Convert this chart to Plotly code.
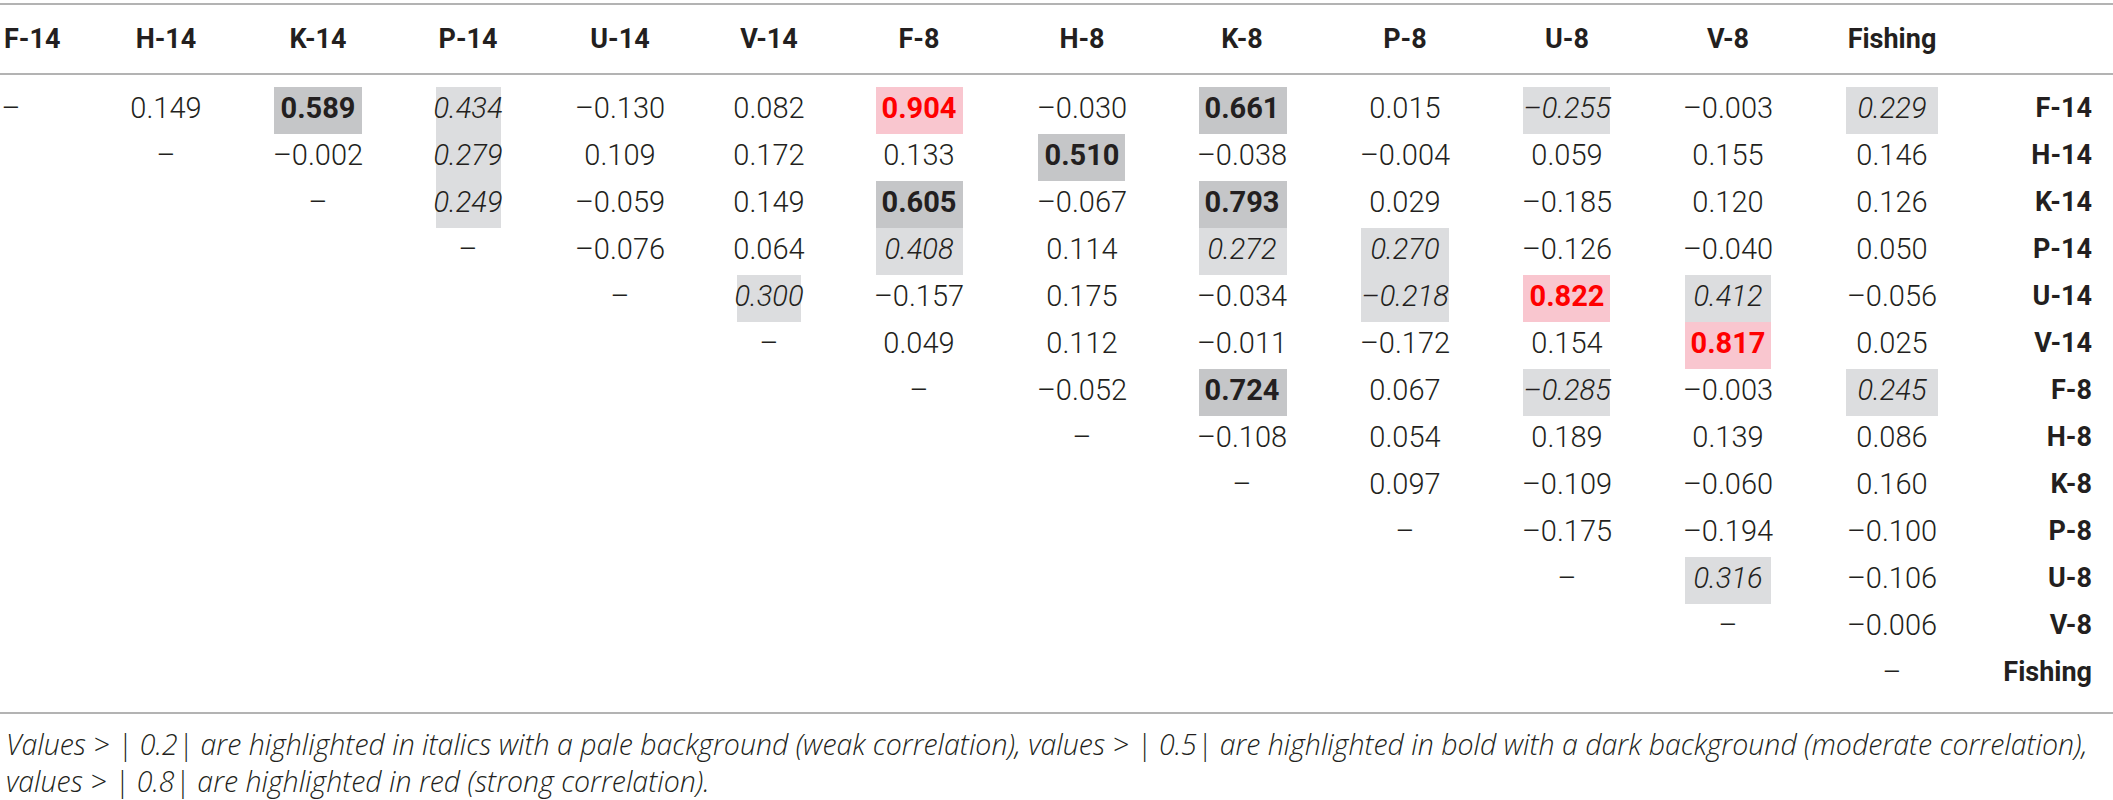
import plotly.graph_objects as go

labels = ["F-14", "H-14", "K-14", "P-14", "U-14", "V-14",
          "F-8", "H-8", "K-8", "P-8", "U-8", "V-8", "Fishing"]

# upper triangle of the correlation matrix, each row starts right after the diagonal
r_f14 = [0.149, 0.589, 0.434, -0.130, 0.082, 0.904, -0.030, 0.661, 0.015, -0.255, -0.003, 0.229]
r_h14 = [-0.002, 0.279, 0.109, 0.172, 0.133, 0.510, -0.038, -0.004, 0.059, 0.155, 0.146]
r_k14 = [0.249, -0.059, 0.149, 0.605, -0.067, 0.793, 0.029, -0.185, 0.120, 0.126]
r_p14 = [-0.076, 0.064, 0.408, 0.114, 0.272, 0.270, -0.126, -0.040, 0.050]
r_u14 = [0.300, -0.157, 0.175, -0.034, -0.218, 0.822, 0.412, -0.056]
r_v14 = [0.049, 0.112, -0.011, -0.172, 0.154, 0.817, 0.025]
r_f8 = [-0.052, 0.724, 0.067, -0.285, -0.003, 0.245]
r_h8 = [-0.108, 0.054, 0.189, 0.139, 0.086]
r_k8 = [0.097, -0.109, -0.060, 0.160]
r_p8 = [-0.175, -0.194, -0.100]
r_u8 = [0.316, -0.106]
r_v8 = [-0.006]
r_fishing = []
upper = [r_f14, r_h14, r_k14, r_p14, r_u14, r_v14, r_f8, r_h8, r_k8, r_p8, r_u8, r_v8, r_fishing]

caption_1 = ("Values > | 0.2| are highlighted in italics with a pale background (weak correlation), "
             "values > | 0.5| are highlighted in bold with a dark background (moderate correlation),")
caption_2 = "values > | 0.8| are highlighted in red (strong correlation)."

# layout of the table (pixels)
W, H = 2113, 800
col_x = [4, 166, 318, 468, 620, 769, 919, 1082, 1242, 1405, 1567, 1728, 1892]
box_l = [0, 122, 274, 436, 576, 737, 876, 1038, 1199, 1361, 1523, 1685, 1846]
box_r = [0, 210, 362, 501, 664, 801, 963, 1125, 1287, 1449, 1610, 1771, 1938]
label_x = 2092
header_y = 41
row_y0, row_h = 110.5, 47
lines_y = [4, 74, 713]

TXT = "#231f20"
PALE = "#dcdddf"
DARK = "#c5c6c8"
PINK = "#f9c6cf"
RED = "#ff0000"
FONT = "Roboto"


def fmt(v):
    s = f"{abs(v):.3f}"
    return ("\u2013" + s) if v < 0 else s


groups = {"plain": ([], [], []), "weak": ([], [], []), "mid": ([], [], []), "strong": ([], [], [])}
shapes = []
for i, row in enumerate(upper):
    y = row_y0 + i * row_h
    for k, v in enumerate(row):
        j = i + 1 + k
        a = abs(v)
        if a > 0.8:
            g, fill = "strong", PINK
        elif a > 0.5:
            g, fill = "mid", DARK
        elif a > 0.2:
            g, fill = "weak", PALE
        else:
            g, fill = "plain", None
        groups[g][0].append(col_x[j])
        groups[g][1].append(y)
        groups[g][2].append(fmt(v))
        if fill:
            shapes.append(dict(type="rect", xref="x", yref="y", layer="below",
                               x0=box_l[j], x1=box_r[j], y0=y - row_h / 2, y1=y + row_h / 2,
                               fillcolor=fill, line=dict(width=0)))

styles = {
    "plain": dict(color=TXT, weight=300, style="normal"),
    "weak": dict(color=TXT, weight=300, style="italic"),
    "mid": dict(color=TXT, weight=700, style="normal"),
    "strong": dict(color=RED, weight=700, style="normal"),
}

fig = go.Figure()
for g, (xs, ys, ts) in groups.items():
    fig.add_trace(go.Scatter(x=xs, y=ys, text=ts, mode="text", textposition="middle center",
                             textfont=dict(family=FONT, size=29, **styles[g]),
                             hoverinfo="skip", showlegend=False))

# diagonal dashes
diag_x = [col_x[i] + (7 if i == 0 else 0) for i in range(len(labels))]
diag_y = [row_y0 + i * row_h for i in range(len(labels))]
fig.add_trace(go.Scatter(x=diag_x, y=diag_y, text=["\u2013"] * len(labels), mode="text",
                         textposition="middle center",
                         textfont=dict(family=FONT, size=29, color=TXT, weight=300),
                         hoverinfo="skip", showlegend=False))

head_font = dict(family=FONT, size=27, color=TXT, weight=700)
# column headers
fig.add_trace(go.Scatter(x=[col_x[0]], y=[header_y], text=[labels[0]], mode="text",
                         textposition="middle right", textfont=head_font,
                         hoverinfo="skip", showlegend=False))
fig.add_trace(go.Scatter(x=col_x[1:], y=[header_y] * (len(labels) - 1), text=labels[1:], mode="text",
                         textposition="middle center", textfont=head_font,
                         hoverinfo="skip", showlegend=False))
# row labels
fig.add_trace(go.Scatter(x=[label_x] * len(labels), y=diag_y, text=labels, mode="text",
                         textposition="middle left", textfont=head_font,
                         hoverinfo="skip", showlegend=False))

for ly in lines_y:
    shapes.append(dict(type="line", xref="x", yref="y", x0=0, x1=W, y0=ly, y1=ly,
                       line=dict(color="#b3b3b3", width=2)))

cap_font = dict(family="Open Sans", size=28.5, color=TXT, weight=300, style="italic")
annotations = [
    dict(x=4, y=744, xref="x", yref="y", text=caption_1, showarrow=False,
         xanchor="left", yanchor="middle", font=cap_font),
    dict(x=4, y=781, xref="x", yref="y", text=caption_2, showarrow=False,
         xanchor="left", yanchor="middle", font=cap_font),
]

fig.update_layout(
    width=W, height=H,
    margin=dict(l=0, r=0, t=0, b=0),
    paper_bgcolor="white", plot_bgcolor="white",
    xaxis=dict(range=[0, W], visible=False, fixedrange=True),
    yaxis=dict(range=[H, 0], visible=False, fixedrange=True),
    shapes=shapes, annotations=annotations,
)

# the default 8px page margin would push the figure off the 2113x800 window
fig.write_html("out.html", config={"displayModeBar": False},
               post_script="document.body.style.margin = '0';")
